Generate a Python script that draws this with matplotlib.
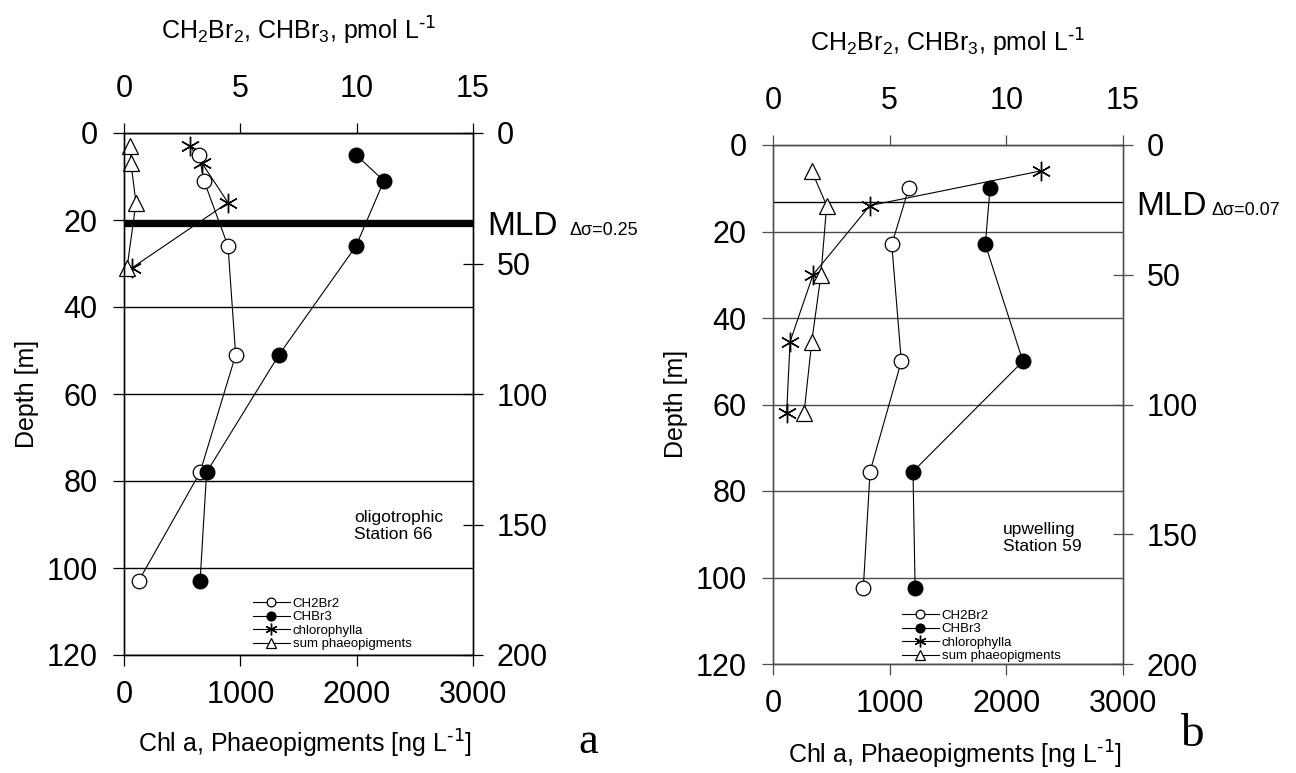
import matplotlib
matplotlib.use("Agg")
import matplotlib.pyplot as plt

plt.rcParams['font.family'] = ['Liberation Sans', 'DejaVu Sans']
plt.rcParams['mathtext.default'] = 'regular'

W, H = 1296, 773

# station 66, oligotrophic (panel a)
depth_brom_a = [5, 11, 26, 51, 78, 103]
ch2br2_a = [3.22, 3.44, 4.47, 4.8, 3.27, 0.63]
chbr3_a = [9.97, 11.17, 9.97, 6.66, 3.55, 3.27]
depth_pig_a = [3, 7, 16, 31]
chla_a = [567, 672, 894, 69]
phaeo_a = [52, 60, 103, 26]
mld_a = 21

# station 59, upwelling (panel b)
depth_brom_b = [10, 23, 50, 75.5, 102.5]
ch2br2_b = [5.82, 5.09, 5.5, 4.16, 3.87]
chbr3_b = [9.3, 9.1, 10.71, 6.0, 6.09]
depth_pig_b = [6, 14, 30, 45.5, 62]
chla_b = [2294, 831, 343, 146, 117]
phaeo_b = [332, 460, 411, 332, 266]
mld_b = 13.1

ng_ticks = [0, 1000, 2000, 3000]
pmol_ticks = [0, 5, 10, 15]
depth_ticks = [0, 20, 40, 60, 80, 100, 120]
right_ticks = [0, 50, 100, 150, 200]
labels = ['CH2Br2', 'CHBr3', 'chlorophylla', 'sum phaeopigments']

fig = plt.figure(figsize=(W / 100, H / 100), dpi=100)


def fx(x):
    return x / W


def fy(y):
    return 1 - y / H


def panel(box, d_brom, ch2br2, chbr3, d_pig, chla, phaeo, mld, mld_lw,
          gcol, leg_xy):
    l, t, r, b = box
    ax = fig.add_axes([fx(l), fy(b), (r - l) / W, (b - t) / H])
    ax.set_xlim(0, 3000)
    ax.set_ylim(120, 0)
    ax.set_xticks(ng_ticks)
    ax.set_yticks(depth_ticks)
    ax.grid(axis='y', color=gcol, lw=1.0)
    ax.set_axisbelow(True)
    ax.tick_params(direction='out', length=8, width=0.9, labelsize=22,
                   color=gcol)
    ax.tick_params(axis='x', pad=10)
    ax.tick_params(axis='y', pad=11)
    for s in ax.spines.values():
        s.set_color(gcol)
        s.set_linewidth(0.9)
    ax.axhline(mld, color='k', lw=mld_lw, zorder=1.5)

    top = ax.twiny()
    top.set_xlim(0, 15)
    top.set_xticks(pmol_ticks)
    top.tick_params(direction='out', length=7, width=0.9, labelsize=22,
                    pad=14, color=gcol)

    right = ax.twinx()
    right.set_ylim(200, 0)
    right.set_yticks(right_ticks)
    right.tick_params(direction='inout', length=14, width=0.9, labelsize=22,
                      pad=10, color=gcol)
    for a in (top, right):
        for s in a.spines.values():
            s.set_color(gcol)
            s.set_linewidth(0.9)

    h1, = top.plot(ch2br2, d_brom, '-o', color='k', lw=0.8, ms=10.5,
                   mfc='white', mec='k', mew=0.9, clip_on=False)
    h2, = top.plot(chbr3, d_brom, '-o', color='k', lw=0.8, ms=10.5,
                   mfc='k', mec='k', clip_on=False)
    h3, = ax.plot(chla, d_pig, '-', marker=(6, 2, 0), color='k', lw=0.8,
                  ms=14, mew=1.0, clip_on=False)
    h4, = ax.plot(phaeo, d_pig, '-^', color='k', lw=0.8, ms=11,
                  mfc='white', mec='k', mew=0.9, clip_on=False)

    right.legend([h1, h2, h3, h4], labels, loc='upper left',
                 bbox_to_anchor=(fx(leg_xy[0]), fy(leg_xy[1])),
                 bbox_transform=fig.transFigure, frameon=False, fontsize=9.5,
                 borderpad=0, handlelength=2.8, handletextpad=0.25,
                 labelspacing=0.1, markerscale=0.6)
    return ax


panel((124, 133, 473, 655), depth_brom_a, ch2br2_a, chbr3_a, depth_pig_a,
      chla_a, phaeo_a, mld_a, 4.5, 'k', (246, 591))
panel((773, 145, 1123, 664), depth_brom_b, ch2br2_b, chbr3_b, depth_pig_b,
      chla_b, phaeo_b, mld_b, 1.0, '0.3', (895, 603))

top_label = 'CH$_2$Br$_2$, CHBr$_3$, pmol L$^{\\text{-1}}$'
bottom_label = 'Chl a, Phaeopigments [ng L$^{\\text{-1}}$]'

# panel a texts
fig.text(fx(299), fy(31), top_label, fontsize=18, ha='center', va='center')
fig.text(fx(305), fy(744), bottom_label, fontsize=18, ha='center', va='center')
fig.text(fx(27), fy(394), 'Depth [m]', fontsize=18, rotation=90,
         ha='center', va='center')
fig.text(fx(487), fy(235), 'MLD', fontsize=24, va='baseline')
fig.text(fx(569), fy(235), '\u0394\u03c3=0.25', fontsize=13, va='baseline')
fig.text(fx(354), fy(510), 'oligotrophic\nStation 66', fontsize=12.5,
         va='top', linespacing=1.15)
fig.text(fx(588), fy(742), 'a', family='Liberation Serif', fontsize=32,
         ha='center', va='center')

# panel b texts
fig.text(fx(948), fy(43), top_label, fontsize=18, ha='center', va='center')
fig.text(fx(955), fy(755), bottom_label, fontsize=18, ha='center', va='center')
fig.text(fx(676), fy(404), 'Depth [m]', fontsize=18, rotation=90,
         ha='center', va='center')
fig.text(fx(1136), fy(215), 'MLD', fontsize=24, va='baseline')
fig.text(fx(1212), fy(215), '\u0394\u03c3=0.07', fontsize=13, va='baseline')
fig.text(fx(1003), fy(522), 'upwelling\nStation 59', fontsize=12.5,
         va='top', linespacing=1.15)
fig.text(fx(1192), fy(735), 'b', family='Liberation Serif', fontsize=34,
         ha='center', va='center')

fig.savefig('out.png', dpi=100)
